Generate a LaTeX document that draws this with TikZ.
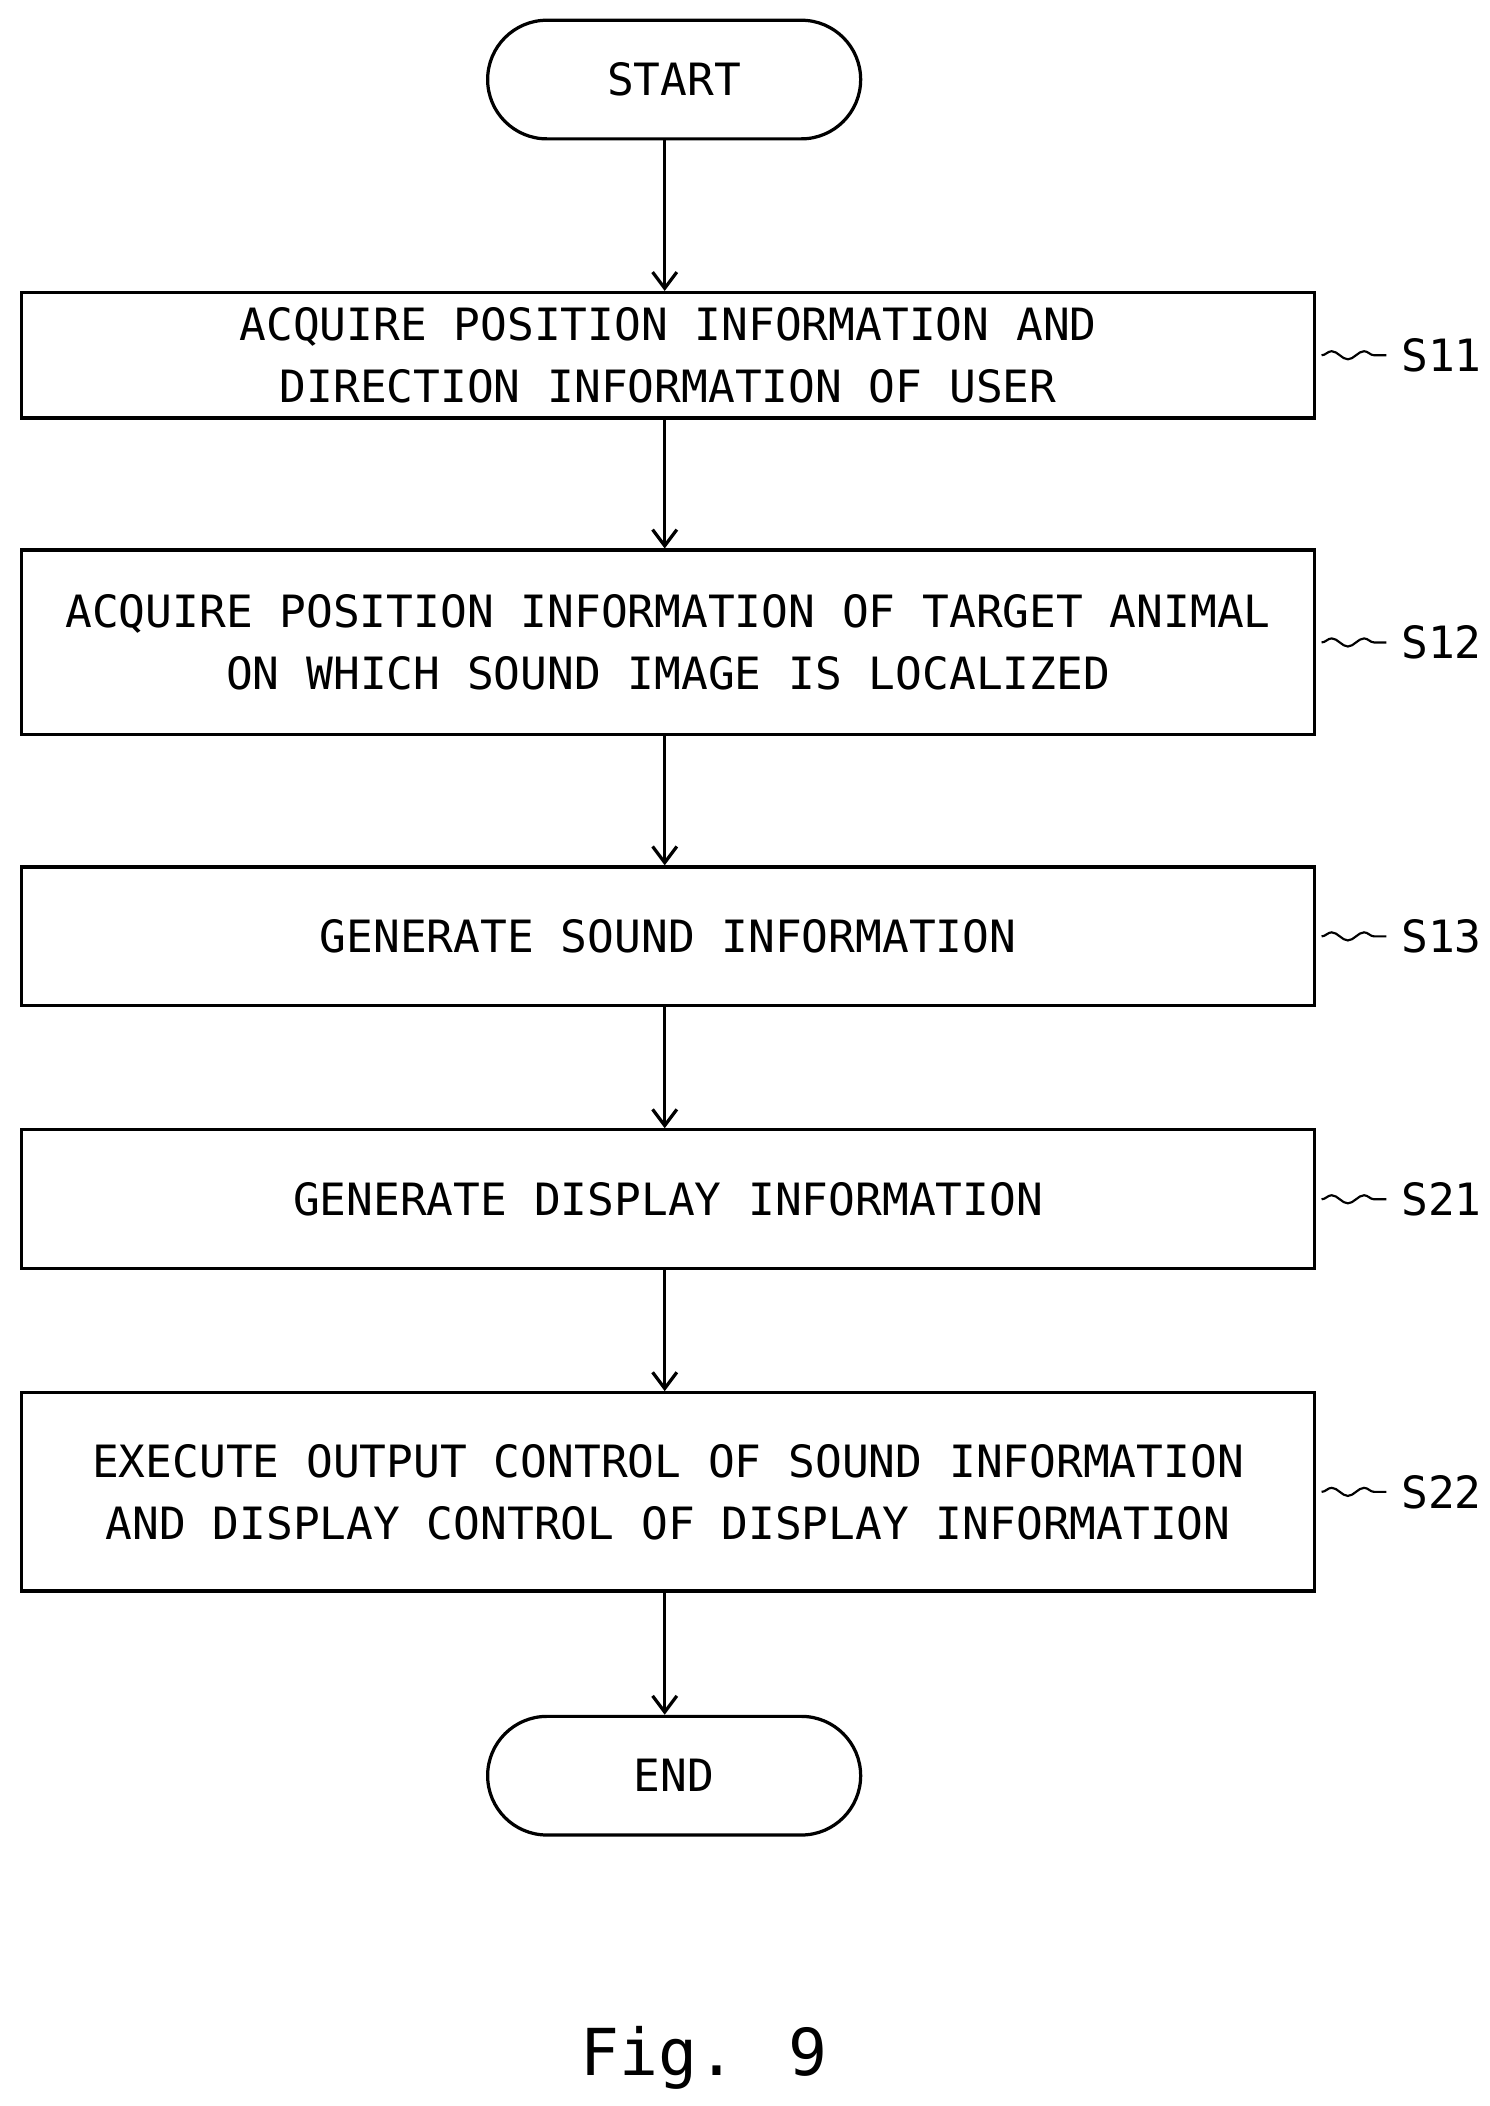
\documentclass[tikz,border=0pt]{standalone}
\usepackage{fontspec}
\setmainfont{DejaVu Sans Mono}
\usetikzlibrary{shapes.misc,decorations.pathmorphing,arrows.meta}
\tikzset{
  proc/.style={draw, line width=1.2pt, minimum width=479.5pt, align=center, inner sep=0pt,
    font=\fontsize{16.5}{23}\selectfont},
  term/.style={draw, line width=1.2pt, rounded rectangle, minimum width=145pt, minimum height=44pt,
    font=\fontsize{16.5}{20}\selectfont},
  flow/.style={line width=1.2pt, -{Straight Barb[length=6pt,width=9pt]}},
  tag/.style={font=\fontsize{16.5}{20}\selectfont, anchor=west},
  squiggle/.style={line width=0.8pt, decorate, decoration={snake, amplitude=1.5pt, segment length=12pt}}
}
\begin{document}
\begin{tikzpicture}[x=0.5pt, y=-0.5pt]
\useasboundingbox (0,0) rectangle (1105,1562);
% Terminals
    \node[term] (start) at (500,59) {START};
    \node[term] (end) at (500,1317) {END};
% Steps
    \node[proc, minimum height=46.5pt] (s11) at (495.5,263.5) {ACQUIRE POSITION INFORMATION AND\\DIRECTION INFORMATION OF USER};
    \node[proc, minimum height=68.5pt] (s12) at (495.5,476.5) {ACQUIRE POSITION INFORMATION OF TARGET ANIMAL\\ON WHICH SOUND IMAGE IS LOCALIZED};
    \node[proc, minimum height=51.5pt] (s13) at (495.5,694.5) {GENERATE SOUND INFORMATION};
    \node[proc, minimum height=51.5pt] (s21) at (495.5,889.5) {GENERATE DISPLAY INFORMATION};
    \node[proc, minimum height=73.5pt] (s22) at (495.5,1106.5) {EXECUTE OUTPUT CONTROL OF SOUND INFORMATION\\AND DISPLAY CONTROL OF DISPLAY INFORMATION};
% Connectors
    \draw[flow] (start.south -| 493,0) -- (s11.north -| 493,0);
    \draw[flow] (s11.south -| 493,0) -- (s12.north -| 493,0);
    \draw[flow] (s12.south -| 493,0) -- (s13.north -| 493,0);
    \draw[flow] (s13.south -| 493,0) -- (s21.north -| 493,0);
    \draw[flow] (s21.south -| 493,0) -- (s22.north -| 493,0);
    \draw[flow] (s22.south -| 493,0) -- (end.north -| 493,0);
% Step labels
    \foreach \s/\t in {s11/S11, s12/S12, s13/S13, s21/S21, s22/S22} {
        \draw[squiggle] ([xshift=2pt]\s.east) -- ++(48,0) coordinate (\s-q);
        \node[tag] (\s-l) at ([xshift=2pt]\s-q) {\t};
    }
% Caption
    \node[font=\fontsize{24}{28}\selectfont] (fig) at (522,1526) {Fig. 9};
\end{tikzpicture}
\end{document}
